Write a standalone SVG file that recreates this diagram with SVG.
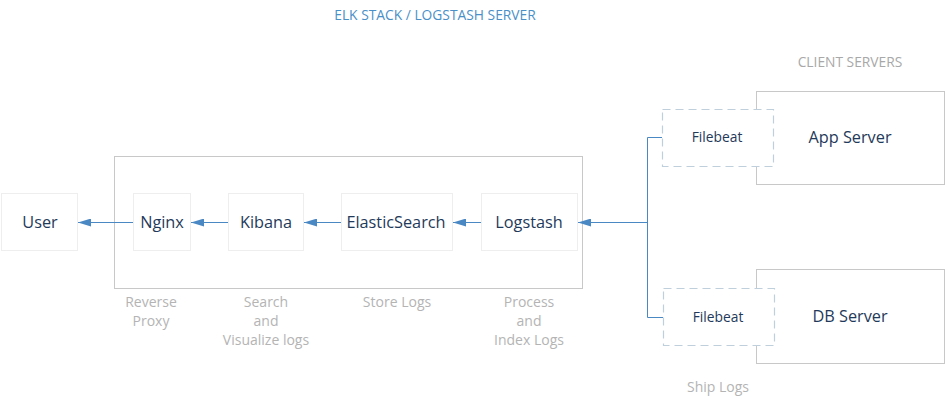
<svg xmlns="http://www.w3.org/2000/svg" width="946" height="405" viewBox="0 0 946 405">
<style>
  text { font-family: "Open Sans", "Liberation Sans", sans-serif; }
  .node { fill: #ffffff; stroke: #eeeeee; stroke-width: 1; }
  .ctr { fill: none; stroke: #c8c8c8; stroke-width: 1; }
  .srv { fill: #ffffff; stroke: #c8c8c8; stroke-width: 1; }
  .fb { fill: #ffffff; stroke: #c0cfdc; stroke-width: 1.2; stroke-dasharray: 8 5; }
  .lbl { font-size: 16.3px; fill: #1f3a5a; text-anchor: middle; }
  .fbl { font-size: 13.8px; fill: #1f3a5a; text-anchor: middle; }
  .note { font-size: 14px; fill: #b4b4b4; text-anchor: middle; }
  .title { font-size: 13.8px; fill: #4a90c8; text-anchor: middle; }
  .hdr { font-size: 13.8px; fill: #a8a8a8; text-anchor: middle; }
  .conn { fill: none; stroke: #4a88c4; stroke-width: 1; }
</style>
<defs>
  <marker id="arr" viewBox="0 0 13 8" refX="13" refY="4" markerWidth="13" markerHeight="8" markerUnits="userSpaceOnUse" orient="auto">
    <path d="M0,0 L13,4 L0,8 z" fill="#4a88c4"/>
  </marker>
</defs>
<rect width="946" height="405" fill="#ffffff"/>
<text class="title" x="435" y="20">ELK STACK / LOGSTASH SERVER</text>
<text class="hdr" x="850" y="67">CLIENT SERVERS</text>
<g id="container">
  <rect class="ctr" x="114.5" y="156.5" width="468" height="132"/>
</g>
<g id="user">
  <rect class="node" x="1.5" y="193.5" width="76" height="57"/>
  <text class="lbl" x="40" y="228">User</text>
</g>
<g id="nginx">
  <rect class="node" x="133.5" y="193.5" width="57" height="57"/>
  <text class="lbl" x="162" y="228">Nginx</text>
</g>
<g id="kibana">
  <rect class="node" x="228.5" y="193.5" width="75" height="57"/>
  <text class="lbl" x="266" y="228">Kibana</text>
</g>
<g id="elasticsearch">
  <rect class="node" x="341.5" y="193.5" width="111" height="57"/>
  <text class="lbl" x="396" y="228">ElasticSearch</text>
</g>
<g id="logstash">
  <rect class="node" x="481.5" y="193.5" width="96" height="57"/>
  <text class="lbl" x="529" y="228">Logstash</text>
</g>
<g id="appserver">
  <rect class="srv" x="756.5" y="91.5" width="188" height="93"/>
  <text class="lbl" x="850" y="143">App Server</text>
</g>
<g id="filebeat-app">
  <rect class="fb" x="662.5" y="109.5" width="111" height="57"/>
  <text class="fbl" x="717" y="142">Filebeat</text>
</g>
<g id="dbserver">
  <rect class="srv" x="756.5" y="269.5" width="188" height="94"/>
  <text class="lbl" x="850" y="322">DB Server</text>
</g>
<g id="filebeat-db">
  <rect class="fb" x="663.5" y="288.5" width="111" height="57"/>
  <text class="fbl" x="718" y="322">Filebeat</text>
</g>
<g id="notes">
  <text class="note" x="151" y="307">Reverse</text>
  <text class="note" x="151" y="326">Proxy</text>
  <text class="note" x="266" y="307">Search</text>
  <text class="note" x="266" y="326">and</text>
  <text class="note" x="266" y="345">Visualize logs</text>
  <text class="note" x="397" y="307">Store Logs</text>
  <text class="note" x="529" y="307">Process</text>
  <text class="note" x="529" y="326">and</text>
  <text class="note" x="529" y="345">Index Logs</text>
  <text class="note" x="718" y="392">Ship Logs</text>
</g>
<g id="connectors">
  <line class="conn" x1="133" y1="222.5" x2="78" y2="222.5" marker-end="url(#arr)"/>
  <line class="conn" x1="228" y1="222.5" x2="191" y2="222.5" marker-end="url(#arr)"/>
  <line class="conn" x1="341" y1="222.5" x2="304" y2="222.5" marker-end="url(#arr)"/>
  <line class="conn" x1="481" y1="222.5" x2="453" y2="222.5" marker-end="url(#arr)"/>
  <path class="conn" d="M662,137.5 H647.5 V317.5 H663"/>
  <line class="conn" x1="647.5" y1="222.5" x2="578" y2="222.5" marker-end="url(#arr)"/>
</g>
</svg>
